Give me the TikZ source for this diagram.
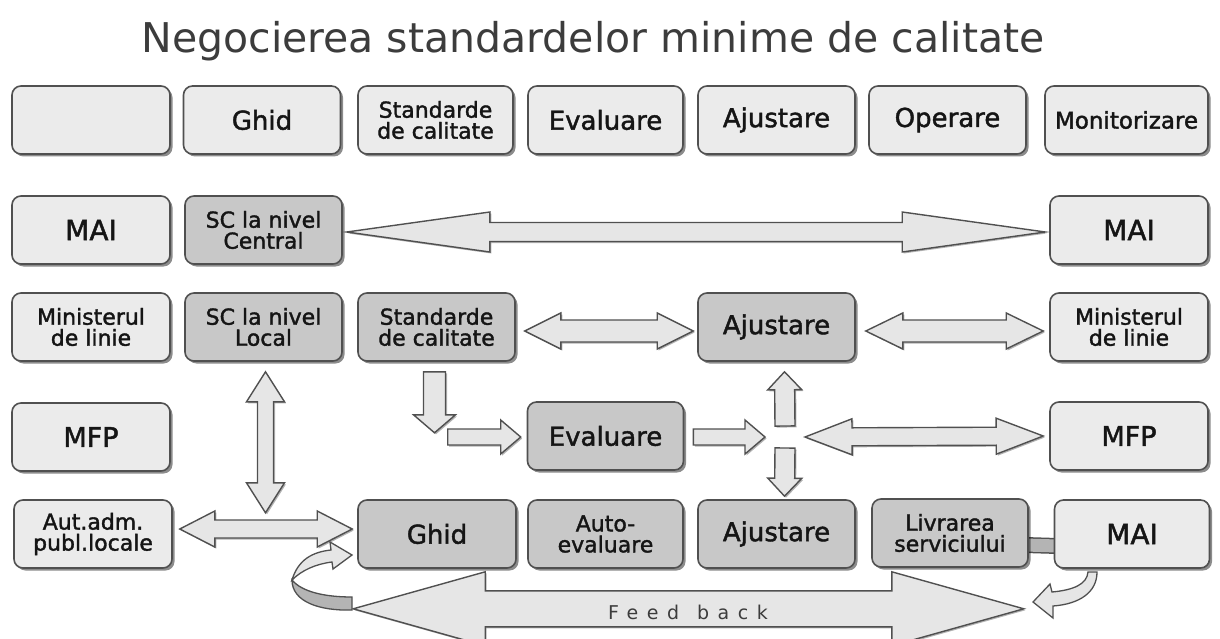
\documentclass[tikz,border=0pt]{standalone}
\usepackage{fontspec}
\setmainfont{DejaVu Sans}
\newfontfamily\boxfont{DejaVu Sans}[FakeBold=1.6]
\newfontfamily\fbfont{DejaVu Sans}[LetterSpace=45]
\usetikzlibrary{calc,shadows}
\definecolor{bordercol}{HTML}{505050}
\definecolor{lightfill}{HTML}{EBEBEB}
\definecolor{darkfill}{HTML}{C8C8C8}
\definecolor{arrowfill}{HTML}{E6E6E6}
\definecolor{bandfill}{HTML}{B4B4B4}
\definecolor{textcol}{HTML}{151515}
\definecolor{titlecol}{HTML}{3C3C3C}
\pgfdeclarelayer{bg}
\pgfsetlayers{bg,main}
% double block arrow: #1 end A, #2 end B, #3 shaft half width, #4 head half width, #5 head length
\newcommand\dblarrow[5]{%
  \path (#1) coordinate (arA) (#2) coordinate (arB);
  \path ($(arA)!#5!(arB)$) coordinate (arA2) ($(arB)!#5!(arA)$) coordinate (arB2);
  \draw[blockarrow] (arA) -- ($(arA2)!#4!90:(arB)$) -- ($(arA2)!#3!90:(arB)$)
    -- ($(arB2)!#3!-90:(arA)$) -- ($(arB2)!#4!-90:(arA)$) -- (arB)
    -- ($(arB2)!#4!90:(arA)$) -- ($(arB2)!#3!90:(arA)$)
    -- ($(arA2)!#3!-90:(arB)$) -- ($(arA2)!#4!-90:(arB)$) -- cycle;}
% single block arrow: #1 tail, #2 tip
\newcommand\sglarrow[5]{%
  \path (#1) coordinate (arA) (#2) coordinate (arB);
  \path ($(arB)!#5!(arA)$) coordinate (arB2);
  \draw[blockarrow] ($(arA)!#3!90:(arB)$) -- ($(arB2)!#3!-90:(arA)$) -- ($(arB2)!#4!-90:(arA)$)
    -- (arB) -- ($(arB2)!#4!90:(arA)$) -- ($(arB2)!#3!90:(arA)$) -- ($(arA)!#3!-90:(arB)$) -- cycle;}
\begin{document}
\begin{tikzpicture}[x=1pt,y=-1pt,
  boxbase/.style={rounded corners=9pt, draw=bordercol, line width=1.6pt, minimum height=68pt,
    inner sep=1pt, align=center, text=textcol,
    drop shadow={shadow xshift=2.5pt, shadow yshift=-2.5pt, fill=black, opacity=0.45}},
  lbox/.style={boxbase, fill=lightfill},
  dbox/.style={boxbase, fill=darkfill},
  onel/.style={font=\boxfont\fontsize{26}{28}\selectfont},
  twol/.style={font=\boxfont\fontsize{22}{21}\selectfont},
  blockarrow/.style={draw=bordercol, fill=arrowfill, line width=1.4pt, line join=miter,
    drop shadow={shadow xshift=1.5pt, shadow yshift=-1.5pt, fill=black, opacity=0.3}},
  curlA/.style={draw=bordercol, fill=arrowfill, line width=1.3pt},
  curlB/.style={draw=bordercol, fill=bandfill, line width=1.3pt}]
\begin{pgfonlayer}{bg}
\fill[white] (0,0) rectangle (1220,639);
\end{pgfonlayer}
\useasboundingbox (0,0) rectangle (1220,639);
\clip (0,0) rectangle (1220,639);

\node[font=\fontsize{41}{44}\selectfont, text=titlecol, anchor=base] (title) at (593,53)
  {Negocierea standardelor minime de calitate};

% row 1
\node[lbox, minimum width=158pt] (h0) at (91,120) {};
\node[lbox, onel, minimum width=157pt] (h1) at (262,120) {Ghid};
\node[lbox, twol, minimum width=155pt] (h2) at (435.5,120) {Standarde\\de calitate};
\node[lbox, onel, minimum width=155pt] (h3) at (605.5,120) {Evaluare};
\node[lbox, onel, minimum width=157pt] (h4) at (776.5,120) {Ajustare};
\node[lbox, onel, minimum width=157pt] (h5) at (947.5,120) {Operare};
\node[lbox, font=\boxfont\fontsize{23}{26}\selectfont, minimum width=163pt] (h6) at (1126.5,120) {Monitorizare};

% row 2
\node[lbox, font=\boxfont\fontsize{28}{30}\selectfont, minimum width=158pt] (mail) at (91,230) {MAI};
\node[dbox, twol, minimum width=157pt] (scc) at (263.5,230) {SC la nivel\\Central};
\node[lbox, font=\boxfont\fontsize{28}{30}\selectfont, minimum width=158pt] (mair) at (1129,230) {MAI};

% row 3
\node[lbox, twol, minimum width=158pt] (minl) at (91,327) {Ministerul\\de linie};
\node[dbox, twol, minimum width=157pt] (scl) at (263.5,327) {SC la nivel\\Local};
\node[dbox, twol, minimum width=157pt] (std) at (436.5,327) {Standarde\\de calitate};
\node[dbox, onel, minimum width=157pt] (aj3) at (776.5,327) {Ajustare};
\node[lbox, twol, minimum width=158pt] (minr) at (1129,327) {Ministerul\\de linie};

% row 4
\node[lbox, font=\boxfont\fontsize{27}{29}\selectfont, minimum width=158pt] (mfpl) at (91,437) {MFP};
\node[dbox, onel, minimum width=156pt] (eval) at (605.5,436) {Evaluare};
\node[lbox, font=\boxfont\fontsize{27}{29}\selectfont, minimum width=158pt] (mfpr) at (1129,436) {MFP};

% row 5
\node[lbox, twol, minimum width=158pt] (aut) at (93,534) {Aut.adm.\\publ.locale};
\node[dbox, onel, minimum width=158pt] (ghid5) at (437,534) {Ghid};
\node[dbox, twol, minimum width=155pt] (auto) at (605.5,534) {Auto-\\evaluare};
\node[dbox, onel, minimum width=157pt] (aj5) at (776.5,534) {Ajustare};
\node[dbox, twol, minimum width=156pt] (livr) at (950,533) {Livrarea\\serviciului};
\node[lbox, font=\boxfont\fontsize{28}{30}\selectfont, minimum width=155pt] (mai5) at (1132,534) {MAI};

% connector Livrarea -- MAI
\begin{pgfonlayer}{bg}
\draw[line width=16pt, draw=bordercol] ($(livr.east)+(-4,12)$) -- ($(mai5.west)+(4,12)$);
\draw[line width=13pt, draw=bandfill] ($(livr.east)+(-4,12)$) -- ($(mai5.west)+(4,12)$);
\end{pgfonlayer}

\coordinate (hub) at (785,437);

% arrows
\dblarrow{$(scc.east)+(4,2)$}{$(mair.west)+(-4,2)$}{9.5pt}{20pt}{143pt}
\dblarrow{$(std.east)+(9,4)$}{$(aj3.west)+(-4,4)$}{11pt}{18pt}{36pt}
\dblarrow{$(aj3.east)+(10,4)$}{$(minr.west)+(-6,4)$}{11pt}{18pt}{37pt}
\sglarrow{$(std.south)+(-2,10)$}{$(std.south)+(-2,71)$}{11pt}{21pt}{18pt}
\sglarrow{$(eval.west)+(-79,1)$}{$(eval.west)+(-6,1)$}{8pt}{17pt}{20pt}
\sglarrow{$(eval.east)+(9,1)$}{$(hub)+(-20,0)$}{8pt}{17pt}{20pt}
\sglarrow{$(hub)+(0,-11)$}{$(aj3.south)+(8,10)$}{10pt}{17pt}{18pt}
\sglarrow{$(hub)+(0,11)$}{$(aj5.north)+(8,-3)$}{10pt}{17pt}{18pt}
\dblarrow{$(hub)+(20,0)$}{$(mfpr.west)+(-6,0)$}{9pt}{18pt}{47pt}
\dblarrow{$(scl.south)+(2,10)$}{$(scl.south)+(2,151)$}{8pt}{19pt}{30pt}
\dblarrow{$(aut.east)+(7,-5)$}{$(ghid5.west)+(-5,-5)$}{9pt}{18pt}{35pt}
% feedback
\dblarrow{$(ghid5.south west)+(-4,40)$}{$(livr.south east)+(-5,41)$}{18pt}{37pt}{132pt}
\node[font=\fbfont\fontsize{19}{20}\selectfont, text=titlecol] (fb) at (688,612) {Feed\hspace{18pt}back};

% curled arrows
\draw[curlA] (292,580) .. controls (298,560) and (312,552) .. (331,550) -- (330,542) -- (352,555)
  -- (333,569) -- (332,562) .. controls (316,564) and (302,570) .. (292,580) -- cycle;
\draw[curlB] (292,580) .. controls (302,592) and (325,597) .. (352,597) -- (352,610)
  .. controls (320,611) and (292,602) .. (292,580) -- cycle;
\draw[curlA] (1088,572) .. controls (1087,584) and (1074,590) .. (1052,592) -- (1050,584)
  -- (1033,602) -- (1053,618) -- (1053,606) .. controls (1080,604) and (1097,592) .. (1097,572) -- cycle;
\end{tikzpicture}
\end{document}
